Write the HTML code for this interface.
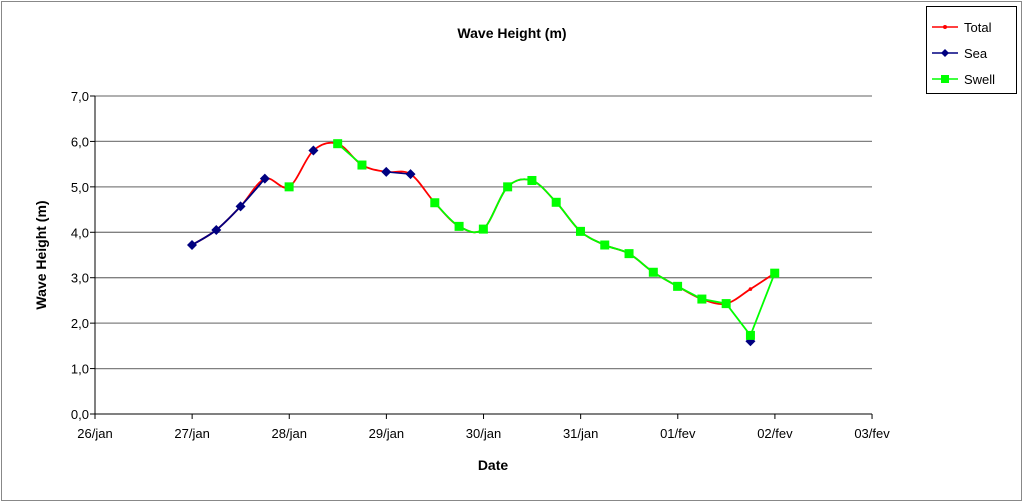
<!DOCTYPE html><html><head><style>body{margin:0;background:#fff}svg{display:block;font-family:"Liberation Sans",sans-serif}</style></head><body>
<svg id="s" width="1024" height="503" xmlns="http://www.w3.org/2000/svg">
<rect x="1.5" y="1.5" width="1020" height="499" fill="#fff" stroke="#888"/>
<text x="512" y="38" text-anchor="middle" font-size="14" font-weight="bold">Wave Height (m)</text>
<g stroke="#808080" stroke-width="1.3">
<line x1="95" y1="96" x2="872" y2="96"/><line x1="95" y1="141.4" x2="872" y2="141.4"/><line x1="95" y1="186.9" x2="872" y2="186.9"/><line x1="95" y1="232.3" x2="872" y2="232.3"/><line x1="95" y1="277.7" x2="872" y2="277.7"/><line x1="95" y1="323.1" x2="872" y2="323.1"/><line x1="95" y1="368.6" x2="872" y2="368.6"/>
</g>
<line x1="95" y1="96" x2="95" y2="414" stroke="#000"/><line x1="95" y1="414" x2="872" y2="414" stroke="#000"/>
<g id="ticks" stroke="#000"></g>
<g font-size="13" text-anchor="end" id="yl"></g>
<g font-size="13" text-anchor="middle" id="xl"></g>
<text x="493" y="470" text-anchor="middle" font-size="14" font-weight="bold">Date</text>
<text transform="translate(46,255) rotate(-90)" text-anchor="middle" font-size="14" font-weight="bold">Wave Height (m)</text>
<g id="d"></g>
<rect x="926.5" y="6.5" width="90" height="87" fill="#fff" stroke="#000"/>
<line x1="932" y1="27" x2="958" y2="27" stroke="red" stroke-width="1.5"/><circle cx="945" cy="27" r="2" fill="red"/>
<text x="964" y="32" font-size="13">Total</text>
<line x1="932" y1="53" x2="958" y2="53" stroke="#000080" stroke-width="1.5"/><path d="M945 49l4 4-4 4-4-4z" fill="#000080"/>
<text x="964" y="58" font-size="13">Sea</text>
<line x1="932" y1="79" x2="958" y2="79" stroke="#00ff00" stroke-width="1.5"/><rect x="941" y="75" width="8" height="8" fill="#00ff00"/>
<text x="964" y="84" font-size="13">Swell</text>
</svg>
<script>
const N='http://www.w3.org/2000/svg',Y=v=>414-v*45.43,X=i=>192+i*24.28;
function el(p,t,a,txt){const e=document.createElementNS(N,t);for(const k in a)e.setAttribute(k,a[k]);if(txt)e.textContent=txt;document.getElementById(p).appendChild(e);return e}
for(let i=0;i<=7;i++){el('yl','text',{x:89,y:Y(i)+5},i+',0');el('ticks','line',{x1:90,x2:95,y1:Y(i),y2:Y(i)})}
const lab=['26/jan','27/jan','28/jan','29/jan','30/jan','31/jan','01/fev','02/fev','03/fev'];
lab.forEach((l,i)=>{const x=95+i*97.13;el('xl','text',{x:x,y:438},l);el('ticks','line',{x1:x,x2:x,y1:414,y2:419})});
function smooth(pts){let d='M'+pts[0].join(' ');for(let i=0;i<pts.length-1;i++){const p0=pts[i-1]||pts[i],p1=pts[i],p2=pts[i+1],p3=pts[i+2]||p2;const t=1/6;d+=` C${p1[0]+(p2[0]-p0[0])*t} ${p1[1]+(p2[1]-p0[1])*t} ${p2[0]-(p3[0]-p1[0])*t} ${p2[1]-(p3[1]-p1[1])*t} ${p2[0]} ${p2[1]}`}return d}
const tot=[3.72,4.05,4.57,5.18,5.0,5.8,5.95,5.48,5.33,5.28,4.65,4.13,4.07,5.0,5.14,4.66,4.02,3.72,3.53,3.12,2.81,2.53,2.43,2.75,3.1];
const P=tot.map((v,i)=>[X(i),Y(v)]);
el('d','path',{d:smooth(P),fill:'none',stroke:'red','stroke-width':1.8});
P.forEach(p=>el('d','circle',{cx:p[0],cy:p[1],r:1.8,fill:'red'}));
el('d','path',{d:smooth(P.slice(0,4)),fill:'none',stroke:'#000080','stroke-width':1.8});
el('d','path',{d:smooth([P[8],P[9]]),fill:'none',stroke:'#000080','stroke-width':1.5});
el('d','path',{d:smooth([P[6],P[7]]),fill:'none',stroke:'#00ff00','stroke-width':1.8});
const sw=P.slice(10);sw[13]=[X(23),Y(1.73)];
el('d','path',{d:smooth(sw.slice(0,12)),fill:'none',stroke:'#00ff00','stroke-width':1.8});
el('d','path',{d:'M'+sw[11].join(' ')+' L'+sw[12].join(' ')+' L'+sw[13].join(' ')+' L'+sw[14].join(' '),fill:'none',stroke:'#00ff00','stroke-width':1.8});
const sea=[0,1,2,3,5,8,9].map(i=>P[i]);sea.push([X(23),Y(1.6)]);
sea.forEach(p=>el('d','path',{d:`M${p[0]} ${p[1]-5}l5 5-5 5-5-5z`,fill:'#000080'}));
const sq=[4,6,7].map(i=>P[i]).concat(sw);
sq.forEach(p=>el('d','rect',{x:p[0]-4.5,y:p[1]-4.5,width:9,height:9,fill:'#00ff00'}));
</script></body></html>
